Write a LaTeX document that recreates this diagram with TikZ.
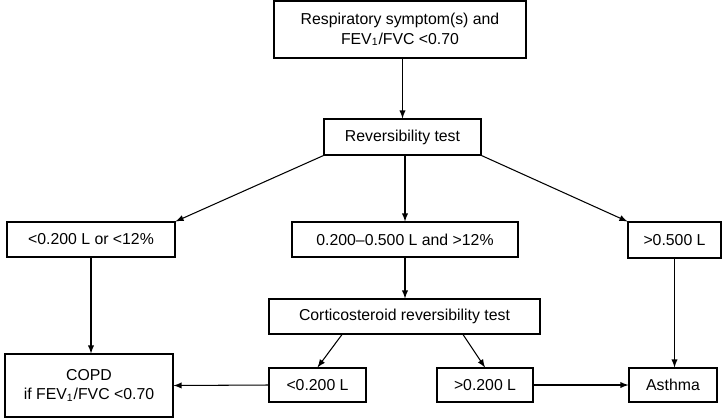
\documentclass[tikz,border=0pt]{standalone}
\usepackage{fontspec}
\setmainfont{Liberation Sans}
\usepackage{tikz}
\usetikzlibrary{positioning}

\tikzset{
	box/.style={draw, line width=0.6pt, inner sep=1pt, align=center, font=\fontsize{9}{11}\selectfont},
	arr/.style={line width=0.6pt, ->, >=latex}
}

\begin{document}
\begin{tikzpicture}
\useasboundingbox (0,0) rectangle (14.52,-8.36);

\node[box, minimum width=5.04cm, minimum height=1.14cm](top) at (8.0,-0.59) {Respiratory symptom(s) and\\FEV\textsubscript{1}/FVC {<}0.70};
\node[box, minimum width=3.14cm, minimum height=0.72cm](rev) at (8.05,-2.74) {Reversibility test};

\node[box, minimum width=3.36cm, minimum height=0.7cm](lo) at (1.82,-4.79) {{<}0.200 L or {<}12\%};
\node[box, minimum width=4.52cm, minimum height=0.7cm](mid) at (8.1,-4.79) {0.200--0.500 L and {>}12\%};
\node[box, minimum width=1.86cm, minimum height=0.72cm](hi) at (13.49,-4.8) {{>}0.500 L};

\node[box, minimum width=5.42cm, minimum height=0.7cm](cort) at (8.09,-6.33) {Corticosteroid reversibility test};

\node[box, minimum width=3.36cm, minimum height=1.26cm](copd) at (1.78,-7.71) {COPD\\if FEV\textsubscript{1}/FVC {<}0.70};
\node[box, minimum width=1.94cm, minimum height=0.68cm](clo) at (6.35,-7.7) {{<}0.200 L};
\node[box, minimum width=1.92cm, minimum height=0.68cm](chi) at (9.7,-7.7) {{>}0.200 L};
\node[box, minimum width=1.76cm, minimum height=0.68cm](asthma) at (13.46,-7.7) {Asthma};

\draw[arr] (top.south -| rev.north) -- (rev.north);
\draw[arr] (rev.south west) -- (lo.north east);
\draw[arr] (rev.south -| mid.north) -- (mid.north);
\draw[arr] (rev.south east) -- (hi.north west);

\draw[arr] (lo.south) -- (copd.north -| lo.south);
\draw[arr] (mid.south) -- (cort.north -| mid.south);
\draw[arr] (hi.south) -- (asthma.north -| hi.south);

\draw[arr] ([xshift=-1.25cm]cort.south) -- (clo.north);
\draw[arr] ([xshift=1.17cm]cort.south) -- (chi.north);

\draw[arr] (clo.west) -- (copd.east);
\draw[arr] (chi.east) -- (asthma.west);

\end{tikzpicture}
\end{document}
